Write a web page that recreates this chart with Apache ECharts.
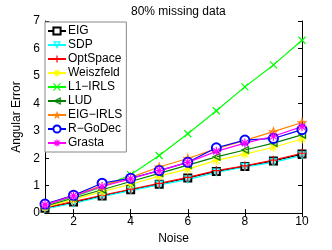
<!DOCTYPE html>
<html><head><meta charset="utf-8">
<script src="https://cdn.jsdelivr.net/npm/echarts@6/dist/echarts.min.js"></script>
<style>html,body{margin:0;padding:0;background:#fff}#c{width:332px;height:250px}</style>
</head><body><div id="c"></div>
<script>
const noise = [1,2,3,4,5,6,7,8,9,10];
const xTicks = [2,4,6,8,10];
const names = ['EIG','SDP','OptSpace','Weiszfeld','L1\u2212IRLS','LUD','EIG\u2212IRLS','R\u2212GoDec','Grasta'];
const EIG       = [0.18,0.40,0.62,0.85,1.05,1.28,1.52,1.70,1.90,2.15];
const SDP       = [0.15,0.35,0.60,0.82,1.03,1.22,1.48,1.68,1.85,2.10];
const OptSpace  = [0.20,0.42,0.65,0.87,1.08,1.30,1.55,1.72,1.93,2.18];
const Weiszfeld = [0.22,0.50,0.78,1.05,1.35,1.60,1.92,2.15,2.40,2.70];
const L1IRLS    = [0.30,0.60,0.95,1.40,2.10,2.89,3.73,4.60,5.40,6.30];
const LUD       = [0.25,0.55,0.85,1.15,1.45,1.75,2.05,2.30,2.55,2.85];
const EIGIRLS   = [0.30,0.65,1.00,1.30,1.68,1.99,2.35,2.65,2.97,3.30];
const RGoDec    = [0.33,0.65,1.09,1.27,1.55,1.85,2.38,2.66,2.72,3.04];
const Grasta    = [0.30,0.63,0.97,1.25,1.55,1.85,2.25,2.55,2.80,3.15];
const values = [EIG,SDP,OptSpace,Weiszfeld,L1IRLS,LUD,EIGIRLS,RGoDec,Grasta];
const colors = ['#000000','#00ffff','#ff0000','#ffff00','#00ff00','#007f00','#ff8000','#0000ff','#ff00ff'];
// hollow outline shapes (outer path + reversed inner path)
const starRing = 'path://M5,0L6.176,3.382L9.755,3.455L6.902,5.618L7.939,9.045L5,7L2.061,9.045L3.098,5.618L0.245,3.455L3.824,3.382Z' +
  'M5,2.75L4.471,4.272L2.860,4.305L4.144,5.278L3.677,6.820L5,5.9L6.323,6.820L5.856,5.278L7.140,4.305L5.529,4.272Z';
const triDownRing = 'path://M0,0L10,0L5,9ZM2,1.18L5,6.58L8,1.18Z';
const triLeftRing = 'path://M10,0L10,10L0,5ZM8.83,1.9L2.63,5L8.83,8.1Z';
const plus = 'path://M0,5L10,5M5,0L5,10';
const cross = 'path://M0,0L10,10M0,10L10,0';
const asterisk = 'path://M0,5L10,5M5,0L5,10M1.5,1.5L8.5,8.5M1.5,8.5L8.5,1.5';
const symbols = ['emptyRect',triDownRing,plus,asterisk,cross,triLeftRing,starRing,'emptyCircle',asterisk];
const sizes = [7,8,9,9,7,8,10,9,9];
const borders = [1.2,0.4,1.2,1.2,1.2,0.4,0.4,1.2,1.2];
const font = 'Liberation Sans, Arial, sans-serif';
const chart = echarts.init(document.getElementById('c'));
const series = names.map((n,i)=>({
  name:n, type:'line', xAxisIndex:0, yAxisIndex:0,
  data: noise.map((x,j)=>[x, values[i][j]]),
  symbol: symbols[i], symbolSize: sizes[i], showAllSymbol:true,
  lineStyle:{color:colors[i], width:1.2},
  itemStyle:{color:colors[i], borderColor:colors[i], borderWidth:borders[i]},
  emphasis:{disabled:true}, animation:false
}));
chart.setOption({
  animation:false,
  title:{text:'80% missing data', left:126, top:1,
    textStyle:{fontFamily:font,fontSize:12,fontWeight:'normal',color:'#000'}},
  grid:{left:45,right:30,top:21,bottom:28},
  legend:{orient:'vertical', left:45, top:22,
    data:names.map((n,i)=>({name:n, itemStyle:{borderWidth:borders[i]}})),
    itemWidth:18, itemHeight:9, itemGap:2,
    backgroundColor:'#fff', borderColor:'#888', borderWidth:1, borderRadius:0, padding:[3,4,3,2],
    textStyle:{fontFamily:font,fontSize:12,color:'#000',padding:[0,0,0,-3]}},
  xAxis:[
    {type:'value',min:1,max:10,position:'bottom',name:'Noise',nameLocation:'middle',nameGap:16,
     nameTextStyle:{fontFamily:font,fontSize:12,color:'#000'},
     axisLine:{lineStyle:{color:'#000'}}, splitLine:{show:false},
     axisTick:{inside:true,length:4,customValues:xTicks,lineStyle:{color:'#000'}},
     axisLabel:{customValues:xTicks,fontFamily:font,fontSize:12,color:'#000',margin:3}},
    {type:'value',min:1,max:10,position:'top',
     axisLine:{lineStyle:{color:'#000'}}, splitLine:{show:false},
     axisTick:{inside:true,length:4,customValues:xTicks,lineStyle:{color:'#000'}},
     axisLabel:{show:false}}
  ],
  yAxis:[
    {type:'value',min:0,max:7,interval:1,position:'left',name:'Angular Error',nameLocation:'middle',nameGap:20,
     nameTextStyle:{fontFamily:font,fontSize:12,color:'#000'},
     axisLine:{show:true,lineStyle:{color:'#000'}}, splitLine:{show:false},
     axisTick:{show:true,inside:true,length:4,lineStyle:{color:'#000'}},
     axisLabel:{fontFamily:font,fontSize:12,color:'#000',margin:5}},
    {type:'value',min:0,max:7,interval:1,position:'right',
     axisLine:{show:true,lineStyle:{color:'#000'}}, splitLine:{show:false},
     axisTick:{show:true,inside:true,length:4,lineStyle:{color:'#000'}},
     axisLabel:{show:false}}
  ],
  series: series
});
</script></body></html>
